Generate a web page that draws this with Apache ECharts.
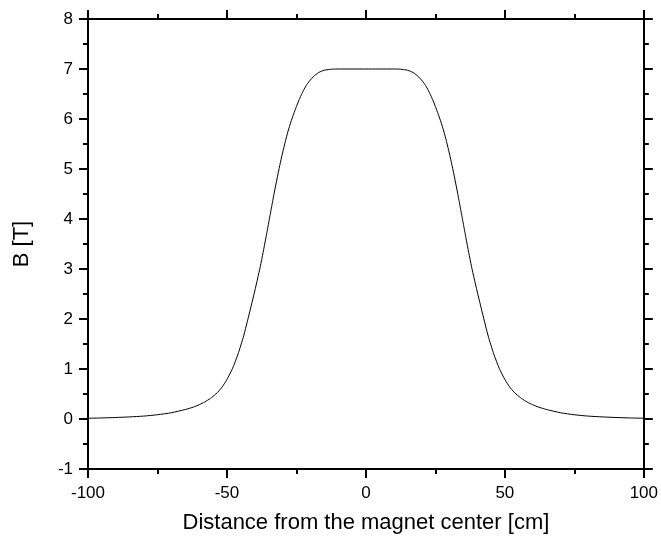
<!DOCTYPE html>
<html>
<head>
<meta charset="utf-8">
<script src="https://cdn.jsdelivr.net/npm/echarts@6/dist/echarts.min.js"></script>
<style>
  html, body { margin: 0; padding: 0; background: #fff; }
  #chart { width: 661px; height: 539px; }
</style>
</head>
<body>
<div id="chart"></div>
<script>
// Axial field profile of the magnet
const positionCm = [
  -100, -95, -90, -85, -80, -75, -70, -65, -62, -60, -58, -56, -54, -52, -50, -48, -46, -44, -42, -40,
  -39, -38, -37, -36, -35, -34, -33, -32, -31, -30, -29, -28, -27, -26, -25, -24, -23, -22, -21, -20,
  -19, -18, -17, -16, -15, -14, -12, -10, 0,
  10, 12, 14, 15, 16, 17, 18, 19, 20, 21, 22, 23, 24, 25, 26, 27, 28, 29, 30, 31, 32, 33, 34, 35, 36,
  37, 38, 39, 40, 42, 44, 46, 48, 50, 52, 54, 56, 58, 60, 62, 65, 70, 75, 80, 85, 90, 95, 100
];
const fieldT = [
  0.015, 0.021, 0.03, 0.042, 0.058, 0.085, 0.125, 0.19, 0.24, 0.285, 0.34, 0.41, 0.5, 0.62, 0.79, 1.01, 1.3, 1.66, 2.1, 2.56,
  2.8, 3.05, 3.33, 3.62, 3.92, 4.22, 4.52, 4.8, 5.07, 5.32, 5.55, 5.76, 5.94, 6.1, 6.25, 6.39, 6.51, 6.62, 6.71, 6.78,
  6.84, 6.89, 6.93, 6.955, 6.975, 6.985, 6.997, 7.0, 7.0,
  7.0, 6.997, 6.985, 6.975, 6.955, 6.93, 6.89, 6.84, 6.78, 6.71, 6.62, 6.51, 6.39, 6.25, 6.1, 5.94, 5.76, 5.55, 5.32, 5.07, 4.8, 4.52, 4.22, 3.92, 3.62,
  3.33, 3.05, 2.8, 2.56, 2.1, 1.66, 1.3, 1.01, 0.79, 0.62, 0.5, 0.41, 0.34, 0.285, 0.24, 0.19, 0.125, 0.085, 0.058, 0.042, 0.03, 0.021, 0.015
];
const xTicks = { min: -100, max: 100, step: 50 };
const yTicks = { min: -1, max: 8, step: 1 };

const font = 'Liberation Sans, Arial, sans-serif';
const axisLine = { show: true, onZero: false, lineStyle: { color: '#000', width: 2 } };
const tick = { show: true, inside: false, length: 9, lineStyle: { color: '#000', width: 2 } };
const minor = { show: true, splitNumber: 2, length: 5, lineStyle: { color: '#000', width: 2 } };

const chart = echarts.init(document.getElementById('chart'), null, { renderer: 'canvas' });
chart.setOption({
  animation: false,
  backgroundColor: '#fff',
  grid: { left: 88, right: 14, top: 19, bottom: 70, containLabel: false },
  xAxis: [
    {
      type: 'value', position: 'bottom', min: xTicks.min, max: xTicks.max, interval: xTicks.step,
      axisLine, axisTick: tick, minorTick: minor, splitLine: { show: false },
      axisLabel: { color: '#000', fontSize: 17, fontFamily: font, margin: 16 },
      name: 'Distance from the magnet center [cm]', nameLocation: 'middle', nameGap: 54,
      nameTextStyle: { color: '#000', fontSize: 22, fontFamily: font, verticalAlign: 'middle' }
    },
    {
      type: 'value', position: 'top', min: xTicks.min, max: xTicks.max, interval: xTicks.step,
      axisLine, axisTick: tick, minorTick: minor, splitLine: { show: false },
      axisLabel: { show: false }
    }
  ],
  yAxis: [
    {
      type: 'value', position: 'left', min: yTicks.min, max: yTicks.max, interval: yTicks.step,
      axisLine, axisTick: tick, minorTick: minor, splitLine: { show: false },
      axisLabel: { color: '#000', fontSize: 17, fontFamily: font, margin: 15 },
      name: 'B [T]', nameLocation: 'middle', nameGap: 66, nameRotate: 90,
      nameTextStyle: { color: '#000', fontSize: 22, fontFamily: font, verticalAlign: 'middle' }
    },
    {
      type: 'value', position: 'right', min: yTicks.min, max: yTicks.max, interval: yTicks.step,
      axisLine, axisTick: tick, minorTick: minor, splitLine: { show: false },
      axisLabel: { show: false }
    }
  ],
  series: [{
    type: 'line',
    xAxisIndex: 0, yAxisIndex: 0,
    data: positionCm.map((x, i) => [x, fieldT[i]]),
    showSymbol: false,
    smooth: 0.2,
    lineStyle: { color: '#000', width: 1 }
  }]
});
</script>
</body>
</html>
